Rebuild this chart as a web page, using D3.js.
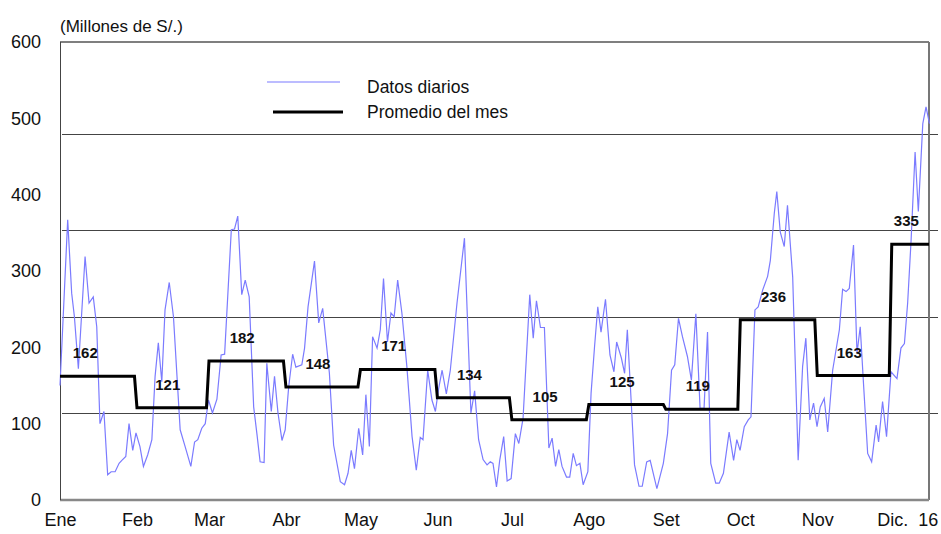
<!DOCTYPE html>
<html>
<head>
<meta charset="utf-8">
<script src="https://cdn.jsdelivr.net/npm/d3@7"></script>
<style>
  body { margin: 0; background: #fff; }
  svg text { font-family: "Liberation Sans", Arial, sans-serif; fill: #111; }
</style>
</head>
<body>
<svg id="chart" width="941" height="534"></svg>
<script>
// monthly labels and averages (millones de S/.)
var monthLabels = ["Ene", "Feb", "Mar", "Abr", "May", "Jun", "Jul", "Ago", "Set", "Oct", "Nov", "Dic.  16"]
var monthAvg = [162, 121, 182, 148, 171, 134, 105, 125, 119, 236, 163, 335]

// daily data: day offset from 1 Jan 2016 and value
var dailyDay = [0, 3.1, 4.7, 5.8, 7.4, 10.1, 11.7, 13.4, 14.8, 16.1, 17.7, 19.2, 20.6, 22.2, 23.8, 24.9, 26.5, 27.8, 29.3, 30.6,
    32.2, 33.6, 35.3, 37, 38.3, 39.6, 41, 42.3, 44, 45.7, 48.4, 50.4, 52.7, 54.2, 55.5, 57.1, 58.5, 59.8, 61.4, 63.2,
    64.9, 66.3, 69, 70.3, 71.6, 73.2, 74.6, 76.2, 78, 79.3, 80.6, 82.2, 83.3, 85.1, 86.4, 87.8, 89.4, 90.7, 92.1, 93.7,
    95, 97.4, 98.5, 99.9, 102.5, 104.2, 105.8, 108.5, 110.2, 112.9, 114.6, 116, 117.3, 118.6, 120.3, 121.9, 123.2, 124.6, 125.9, 127.7,
    129, 130.3, 131.9, 133.3, 134.6, 136, 137.7, 139.7, 141.8, 143.5, 145.1, 146.2, 148.1, 149.8, 151.2, 152.5, 153.9, 155.6, 157.2, 159.9,
    162.9, 165.5, 167, 168.6, 170.4, 172, 173.3, 174.4, 175.8, 177.1, 178.7, 180.1, 181.7, 183.4, 184.8, 186.5, 189.2, 190.6, 191.9, 193.5,
    195.1, 196.9, 198.2, 199.6, 200.9, 202.2, 204, 205.3, 206.7, 208, 209.4, 210.7, 212.6, 213.9, 215.3, 216.6, 217.9, 219.7, 221.5, 223.1,
    224.2, 226.1, 227.4, 228.5, 229.8, 231.4, 233.2, 234.5, 236.3, 237.7, 240.4, 243, 244.7, 246.3, 247.6, 249.1, 250.7, 252.7, 254.3, 256.1,
    257.8, 259.4, 260.8, 262.1, 264.1, 265.5, 267.2, 269.5, 271.3, 272.6, 273.9, 275.6, 277.2, 278.3, 279.9, 281.2, 283, 285, 286.1, 287.7,
    288.7, 290.1, 291.7, 293, 295.1, 297.3, 299.1, 300.4, 302, 303.5, 304.9, 306.2, 307.8, 309.2, 311.2, 313.9, 315.2, 316.6, 317.9, 319.6,
    321, 322.3, 323.7, 325.3, 326.9, 328.7, 329.7, 331.3, 332.9, 334.7, 337.1, 338.7, 340.1, 341.4, 342.8, 344.4, 345.7, 347.5, 348.8, 350.2]
var dailyValue = [150, 367, 271, 240, 172, 319, 258, 266, 227, 100, 116, 33, 37, 37, 48, 52, 57, 100, 65, 88,
    70, 44, 59, 79, 162, 206, 155, 249, 285, 240, 92, 70, 44, 76, 79, 94, 100, 131, 114, 132,
    190, 191, 354, 355, 372, 269, 288, 266, 122, 87, 50, 49, 179, 116, 162, 114, 78, 92, 148, 191,
    174, 177, 199, 253, 313, 232, 251, 166, 72, 24, 20, 35, 65, 41, 94, 59, 138, 70, 214, 199,
    223, 290, 207, 245, 240, 288, 245, 175, 83, 39, 82, 79, 170, 131, 116, 146, 170, 139, 170, 258,
    343, 114, 143, 79, 53, 46, 50, 48, 17, 52, 83, 25, 28, 87, 74, 107, 269, 212, 261, 226,
    226, 68, 81, 44, 66, 44, 30, 30, 61, 45, 48, 20, 37, 140, 201, 253, 220, 263, 190, 168,
    207, 186, 166, 223, 144, 46, 18, 18, 50, 52, 15, 48, 87, 170, 177, 238, 214, 188, 157, 244,
    120, 120, 220, 48, 22, 22, 35, 89, 52, 79, 65, 96, 105, 109, 249, 253, 275, 293, 314, 376,
    404, 351, 332, 386, 292, 52, 175, 212, 105, 127, 96, 122, 133, 89, 170, 223, 276, 273, 277, 334,
    192, 227, 148, 61, 50, 98, 76, 129, 83, 168, 159, 199, 205, 258, 341, 456, 378, 493, 515, 493]

var yTicks = [0, 100, 200, 300, 400, 500, 600]
var gridValues = [114, 240, 354, 480]

var svg = d3.select("#chart")
var plotLeft = 60, plotRight = 929, plotTop = 42, plotBottom = 500

var start = new Date(2016, 0, 1)
var end = new Date(2016, 11, 17)
var dayToDate = d => new Date(start.getTime() + d * 864e5)

var x = d3.scaleTime().domain([start, dayToDate(350)]).range([plotLeft, plotRight])
var y = d3.scaleLinear().domain([0, 600]).range([plotBottom, plotTop])

// reference lines
svg.append("g")
    .selectAll("line")
    .data(gridValues)
    .enter().append("line")
    .attr("x1", plotLeft + 2)
    .attr("x2", 938)
    .attr("y1", d => Math.round(y(d)) + 0.5)
    .attr("y2", d => Math.round(y(d)) + 0.5)
    .attr("stroke", "#444")
    .attr("stroke-width", 1)

// frame
svg.append("line").attr("x1", plotLeft).attr("x2", plotRight).attr("y1", plotTop).attr("y2", plotTop)
    .attr("stroke", "#555").attr("stroke-width", 1.5)
svg.append("line").attr("x1", plotRight).attr("x2", plotRight).attr("y1", plotTop).attr("y2", plotBottom)
    .attr("stroke", "#777").attr("stroke-width", 2)
svg.append("line").attr("x1", plotLeft).attr("x2", plotRight).attr("y1", plotBottom).attr("y2", plotBottom)
    .attr("stroke", "#888").attr("stroke-width", 2.5)
svg.append("line").attr("x1", plotLeft + 0.5).attr("x2", plotLeft + 0.5).attr("y1", plotTop).attr("y2", plotBottom)
    .attr("stroke", "#444").attr("stroke-width", 1)

// daily line
var daily = dailyDay.map((d, i) => ({ date: dayToDate(d), value: dailyValue[i] }))
svg.append("path")
    .datum(daily)
    .attr("fill", "none")
    .attr("stroke", "#7b7bff")
    .attr("stroke-width", 1.2)
    .attr("d", d3.line().x(d => x(d.date)).y(d => y(d.value)))

// monthly average steps
var monthStarts = d3.timeMonth.range(start, end)
var steps = []
monthStarts.forEach((m, i) => {
    var last = i < monthStarts.length - 1 ? d3.timeDay.offset(monthStarts[i + 1], -1) : dayToDate(350)
    steps.push({ date: m, value: monthAvg[i], mid: x(m) + (x(last) - x(m)) / 2 })
    steps.push({ date: last, value: monthAvg[i] })
})

svg.append("path")
    .datum(steps)
    .attr("fill", "none")
    .attr("stroke", "#000")
    .attr("stroke-width", 3)
    .attr("d", d3.line().x(d => x(d.date)).y(d => y(d.value)))

svg.append("g")
    .selectAll("text")
    .data(steps.filter(d => d.mid !== undefined))
    .enter().append("text")
    .attr("x", (d, i) => i === 0 ? d.mid - 12 : d.mid - 4)
    .attr("y", d => y(d.value) - 18)
    .attr("text-anchor", "middle")
    .attr("font-size", 15)
    .attr("font-weight", "bold")
    .text(d => d.value)

// y axis
var yAxis = svg.append("g")
    .attr("transform", "translate(41,0)")
    .call(d3.axisLeft(y).tickValues(yTicks).tickSize(0).tickPadding(0))
yAxis.select(".domain").remove()
yAxis.selectAll("text")
    .attr("font-size", 18)
    .attr("font-family", null)
    .attr("fill", null)

// x axis
var xAxis = svg.append("g")
    .attr("transform", "translate(0," + 513 + ")")
    .call(d3.axisBottom(x).tickValues(monthStarts).tickSize(0).tickPadding(0)
        .tickFormat((d, i) => monthLabels[i]))
xAxis.select(".domain").remove()
xAxis.selectAll("text")
    .attr("font-size", 18)
    .attr("font-family", null)
    .attr("fill", null)
    .attr("dy", "0.71em")
    .style("white-space", "pre")
xAxis.selectAll(".tick").filter((d, i) => i === monthStarts.length - 1)
    .select("text")
    .attr("text-anchor", "start")
    .attr("x", -15)

// unit label
svg.append("text")
    .attr("x", 60)
    .attr("y", 32)
    .attr("font-size", 17)
    .text("(Millones de S/.)")

// legend
var legend = svg.append("g")
legend.append("line").attr("x1", 267).attr("x2", 340).attr("y1", 82).attr("y2", 82)
    .attr("stroke", "#7b7bff").attr("stroke-width", 1.2)
legend.append("line").attr("x1", 273).attr("x2", 343).attr("y1", 112).attr("y2", 112)
    .attr("stroke", "#000").attr("stroke-width", 3)
legend.append("text").attr("x", 367).attr("y", 93).attr("font-size", 17.5).text("Datos diarios")
legend.append("text").attr("x", 367).attr("y", 118).attr("font-size", 17.5).text("Promedio del mes")
</script>
</body>
</html>
